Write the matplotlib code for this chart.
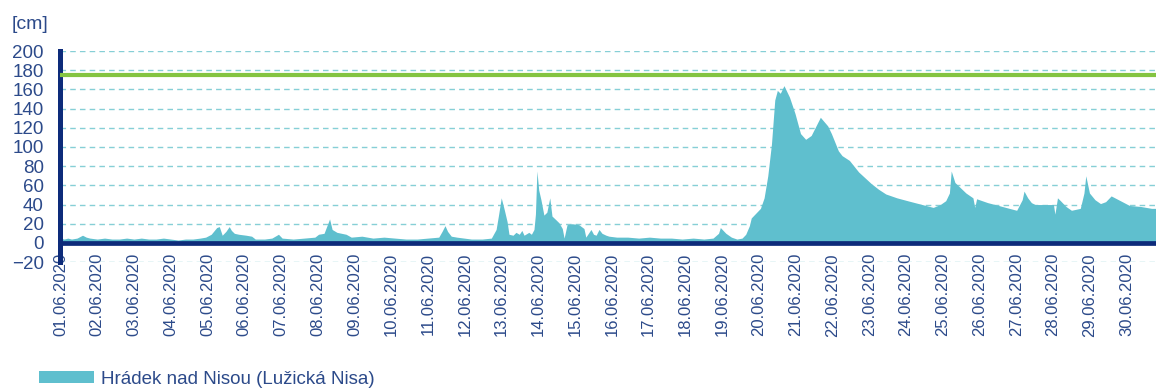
import numpy as np
import pandas as pd
import matplotlib
matplotlib.use("Agg")
import matplotlib.pyplot as plt
from matplotlib.patches import Patch

# Hrádek nad Nisou (Lužická Nisa), water level June 2020
# time in days since 01.06.2020 00:00, level in cm
t_days = [
    0.0, 0.1, 0.2, 0.3, 0.45, 0.6, 0.7, 0.8, 1.0, 1.2, 1.4, 1.6, 1.8, 2.0, 2.2, 2.4,
    2.6, 2.8, 3.0, 3.2, 3.4, 3.6, 3.8, 3.95, 4.1, 4.25, 4.32, 4.4, 4.5, 4.59, 4.65,
    4.73, 4.85, 5.05, 5.2, 5.3, 5.55, 5.75, 5.93, 6.03, 6.33, 6.63, 6.92, 7.02, 7.17,
    7.32, 7.39, 7.52, 7.77, 7.91, 8.2, 8.5, 8.8, 9.1, 9.4, 9.7, 9.99, 10.29, 10.38,
    10.46, 10.53, 10.63, 10.78, 10.98, 11.18, 11.47, 11.72, 11.85, 11.92, 11.99,
    12.07, 12.15, 12.2, 12.31, 12.39, 12.48, 12.55, 12.61, 12.74, 12.81, 12.88,
    12.92, 12.96, 13.01, 13.07, 13.15, 13.23, 13.31, 13.37, 13.48, 13.56, 13.65,
    13.7, 13.78, 13.92, 14.1, 14.24, 14.29, 14.36, 14.43, 14.5, 14.57, 14.65, 14.73,
    14.84, 14.92, 15.13, 15.43, 15.73, 16.02, 16.32, 16.62, 16.91, 17.21, 17.5,
    17.75, 17.9, 17.95, 18.1, 18.25, 18.4, 18.54, 18.64, 18.74, 18.79, 18.89, 19.04,
    19.14, 19.24, 19.34, 19.43, 19.5, 19.58, 19.68, 19.83, 19.98, 20.13, 20.27,
    20.42, 20.67, 20.87, 20.97, 21.16, 21.26, 21.46, 21.71, 22.05, 22.25, 22.45,
    22.75, 23.04, 23.24, 23.54, 23.74, 23.93, 24.08, 24.18, 24.23, 24.33, 24.63,
    24.82, 24.87, 24.92, 25.22, 25.52, 25.81, 26.01, 26.16, 26.21, 26.31, 26.41,
    26.51, 26.71, 26.91, 27.01, 27.05, 27.12, 27.2, 27.35, 27.5, 27.74, 27.84, 27.89,
    27.99, 28.14, 28.29, 28.43, 28.58, 28.68, 28.88, 29.08, 29.38, 29.68, 29.8,
]
level_cm = [
    5, 4, 5, 4, 5, 8, 6, 5, 4, 5, 4, 4, 5, 4, 5, 4,
    4, 5, 4, 3, 4, 4, 5, 6, 9, 16, 17, 8, 12, 17, 13,
    10, 9, 8, 7, 4, 4, 5, 9, 5, 4, 5, 6, 9, 10,
    25, 14, 11, 9, 6, 7, 5, 6, 5, 4, 4, 5, 6, 12,
    18, 12, 7, 6, 5, 4, 4, 5, 14, 30, 47,
    35, 22, 9, 8, 11, 9, 13, 8, 11, 9, 14,
    30, 75, 55, 45, 29, 32, 47, 28, 24, 21, 15,
    5, 19, 20, 19, 15, 6, 10, 14, 9, 8, 14, 10,
    8, 7, 6, 6, 5, 6, 5, 5, 4, 5, 4,
    5, 10, 16, 10, 6, 4, 5, 9, 18, 26, 30, 36,
    47, 70, 103, 149, 159, 156, 164, 152, 135, 114, 108,
    112, 131, 122, 114, 96, 91, 86, 74, 62, 56, 51,
    47, 44, 42, 39, 37, 40, 44, 52, 75, 63, 52,
    47, 37, 46, 42, 39, 36, 34, 45, 54, 47, 42,
    40, 40, 40, 40, 30, 47, 44, 38, 34, 36, 52, 70,
    52, 45, 41, 43, 49, 47, 43, 39, 38, 36, 36,
]
limit_cm = 175  # green threshold line
station = "Hrádek nad Nisou (Lužická Nisa)"
day_labels = [d.strftime("%d.%m.%Y") for d in pd.date_range("2020-06-01", "2020-06-30")]
y_ticks = list(range(-20, 201, 20))

fill_col = "#5FBFCE"
navy = "#0D2B7A"
green = "#84C441"
grid_col = "#86CFD6"
text_col = "#2C4A8A"

plt.rcParams["font.family"] = ["Liberation Sans", "DejaVu Sans"]

fig = plt.figure(figsize=(11.56, 3.9), dpi=100)
ax = fig.add_axes([0.0523, 0.328, 0.9477, 0.541])

ax.fill_between(t_days, 0, level_cm, color=fill_col, linewidth=0)
ax.axhline(limit_cm, color=green, lw=3.0, zorder=3)
ax.axhline(0, color=navy, lw=3.4, zorder=4)

ax.set_xlim(0, 29.8)
ax.set_ylim(-20, 200)
ax.set_yticks(y_ticks)
ax.set_xticks(np.arange(len(day_labels)))
ax.set_xticklabels(day_labels, rotation=90)

ax.grid(axis="y", color=grid_col, linestyle=(0, (4, 3)), lw=1.0)
ax.set_axisbelow(True)

for s in ["top", "right", "bottom"]:
    ax.spines[s].set_visible(False)
ax.spines["left"].set_color(navy)
ax.spines["left"].set_linewidth(3.6)

ax.tick_params(axis="y", length=0, pad=12, labelsize=13.5, labelcolor=text_col)
# date labels overlap the -20 line a little, like in the original
ax.tick_params(axis="x", length=0, pad=-6.5, labelsize=12, labelcolor=text_col)

fig.text(0.0104, 0.936, "[cm]", fontsize=14, color=text_col, va="center", ha="left")

# legend at the bottom
handle = Patch(facecolor=fill_col, edgecolor="none")
fig.legend([handle], [station], loc="center left", bbox_to_anchor=(0.034, 0.028),
           frameon=False, fontsize=13.5, handlelength=2.9, handleheight=0.6,
           handletextpad=0.4, borderpad=0, borderaxespad=0, labelcolor=text_col)

fig.savefig("out.png", dpi=100)
